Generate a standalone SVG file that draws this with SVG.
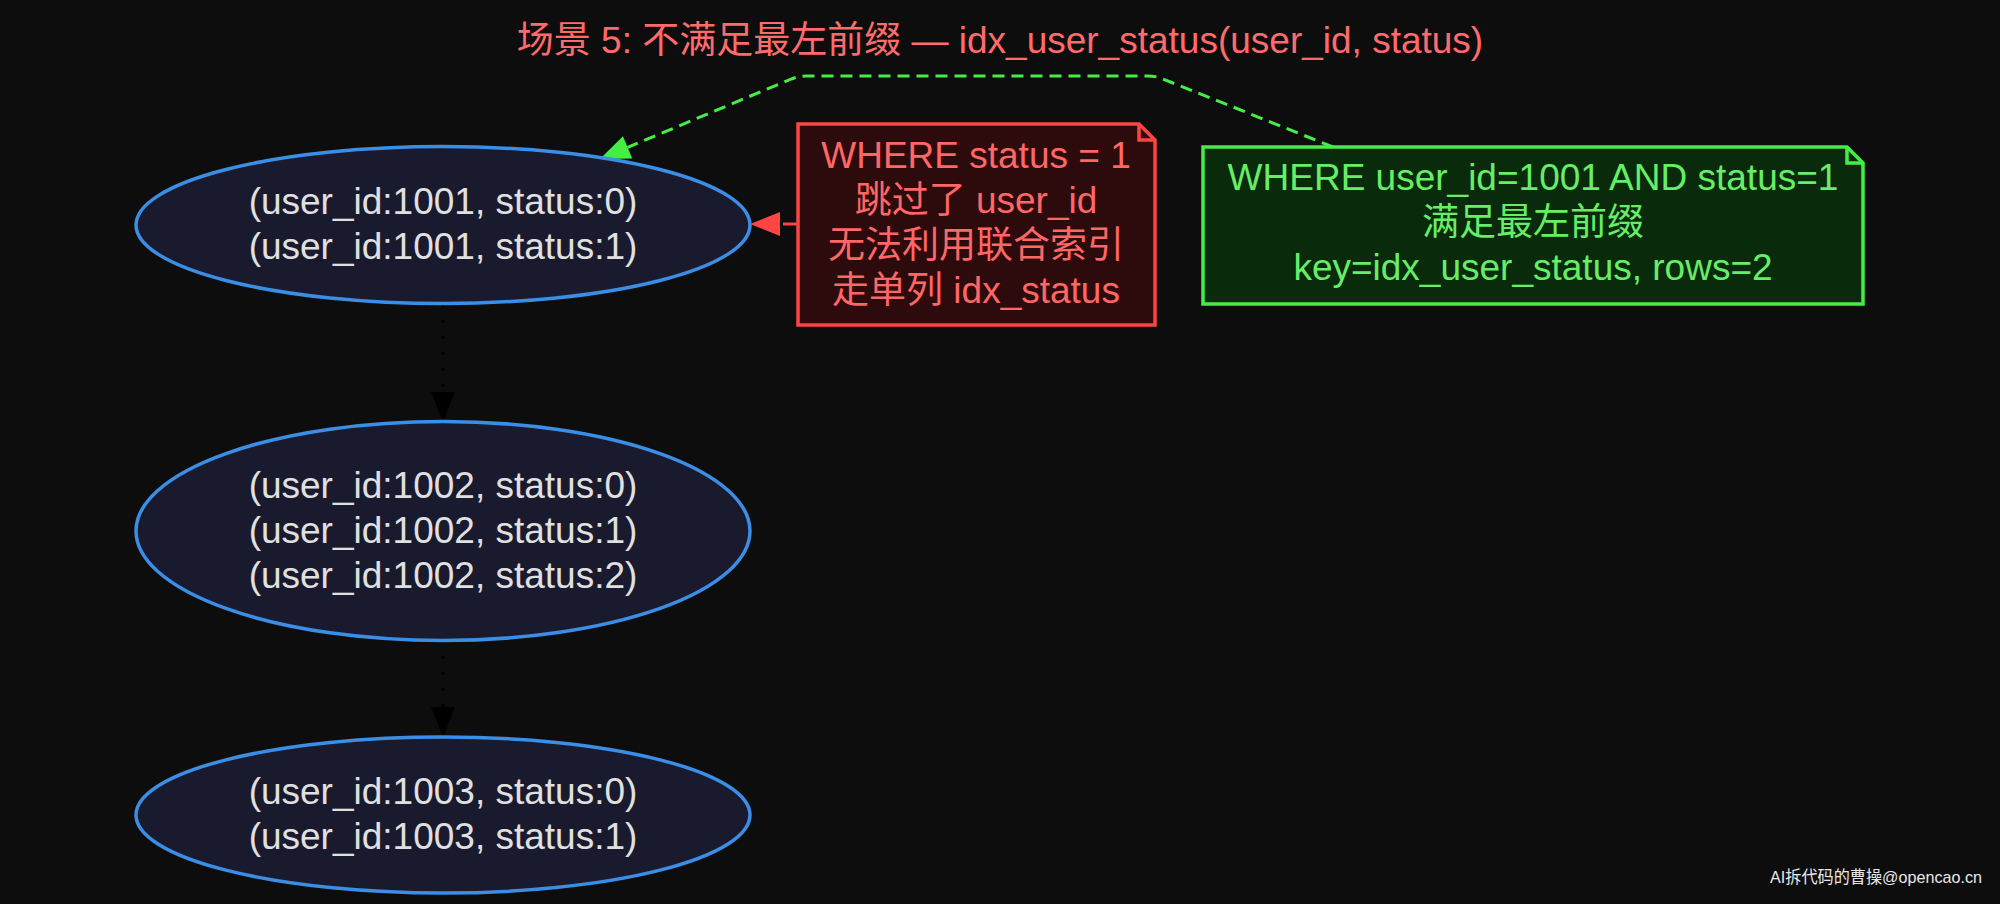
<svg xmlns="http://www.w3.org/2000/svg" width="2000" height="904" viewBox="0 0 2000 904">
<style>
text{font-family:"Liberation Sans","Noto Sans CJK SC",sans-serif;font-size:37px;text-anchor:middle}
.node ellipse{fill:#1a1a2e;stroke:#3a8ee6;stroke-width:3.5}
.node text{fill:#e0e0e0}
.red path.b{fill:#2d0b0d;stroke:#ff4444;stroke-width:3.5}
.red path.f{fill:none;stroke:#ff4444;stroke-width:3.5}
.red text{fill:#ff6666}
.green path.b{fill:#0a2a0c;stroke:#44ee44;stroke-width:3.5}
.green path.f{fill:none;stroke:#44ee44;stroke-width:3.5}
.green text{fill:#66ee66}
.title{fill:#ff6b6b}
.wm{font-size:17px;fill:#e8e8e8;text-anchor:start}
</style>
<defs>
<marker id="ak" markerUnits="userSpaceOnUse" markerWidth="32" markerHeight="26" refX="0" refY="12" orient="auto" overflow="visible"><path d="M0,0 L30,12 L0,24 Z" fill="#000"/></marker>
<marker id="ar" markerUnits="userSpaceOnUse" markerWidth="32" markerHeight="26" refX="0" refY="12" orient="auto" overflow="visible"><path d="M0,0 L30,12 L0,24 Z" fill="#ff4444"/></marker>
<marker id="ag" markerUnits="userSpaceOnUse" markerWidth="32" markerHeight="26" refX="0" refY="12" orient="auto" overflow="visible"><path d="M0,0 L30,12 L0,24 Z" fill="#44ee44"/></marker>
</defs>
<rect x="0" y="0" width="2000" height="904" fill="#0d0d0d"/>
<text class="title" x="1000" y="53">场景 5: 不满足最左前缀 — idx_user_status(user_id, status)</text>
<g id="connectors">
<path d="M443,304 L443,392" fill="none" stroke="#000" stroke-width="3" stroke-dasharray="3,13" marker-end="url(#ak)"/>
<path d="M443,640 L443,707" fill="none" stroke="#000" stroke-width="3" stroke-dasharray="3,13" marker-end="url(#ak)"/>
<path d="M797,224 L780,224" fill="none" stroke="#ff4444" stroke-width="3" stroke-dasharray="14,6" marker-end="url(#ar)"/>
<path d="M1333,147 L1163,79 Q1156,76 1148,76 L806,76 Q798,76 790,79.5 L627.6,147.4" fill="none" stroke="#44ee44" stroke-width="3" stroke-dasharray="12,7" marker-end="url(#ag)"/>
</g>
<g id="n1001" class="node">
<ellipse cx="443" cy="225" rx="307" ry="78.5"/>
<text x="443" y="214">(user_id:1001, status:0)</text>
<text x="443" y="259">(user_id:1001, status:1)</text>
</g>
<g id="n1002" class="node">
<ellipse cx="443" cy="531" rx="307" ry="109.5"/>
<text x="443" y="498">(user_id:1002, status:0)</text>
<text x="443" y="543">(user_id:1002, status:1)</text>
<text x="443" y="588">(user_id:1002, status:2)</text>
</g>
<g id="n1003" class="node">
<ellipse cx="443" cy="815" rx="307" ry="78"/>
<text x="443" y="804">(user_id:1003, status:0)</text>
<text x="443" y="849">(user_id:1003, status:1)</text>
</g>
<g id="note_bad" class="red">
<path class="b" d="M798,124 L1139,124 L1155,140 L1155,325 L798,325 Z"/>
<path class="f" d="M1139,124 L1139,140 L1155,140"/>
<text x="976" y="168">WHERE status = 1</text>
<text x="976" y="213">跳过了 user_id</text>
<text x="976" y="258">无法利用联合索引</text>
<text x="976" y="303">走单列 idx_status</text>
</g>
<g id="note_good" class="green">
<path class="b" d="M1203,147 L1847,147 L1863,163 L1863,304 L1203,304 Z"/>
<path class="f" d="M1847,147 L1847,163 L1863,163"/>
<text x="1533" y="190">WHERE user_id=1001 AND status=1</text>
<text x="1533" y="235">满足最左前缀</text>
<text x="1533" y="280">key=idx_user_status, rows=2</text>
</g>
<text class="wm" x="1770" y="883" textLength="212" lengthAdjust="spacingAndGlyphs">AI拆代码的曹操@opencao.cn</text>
</svg>
